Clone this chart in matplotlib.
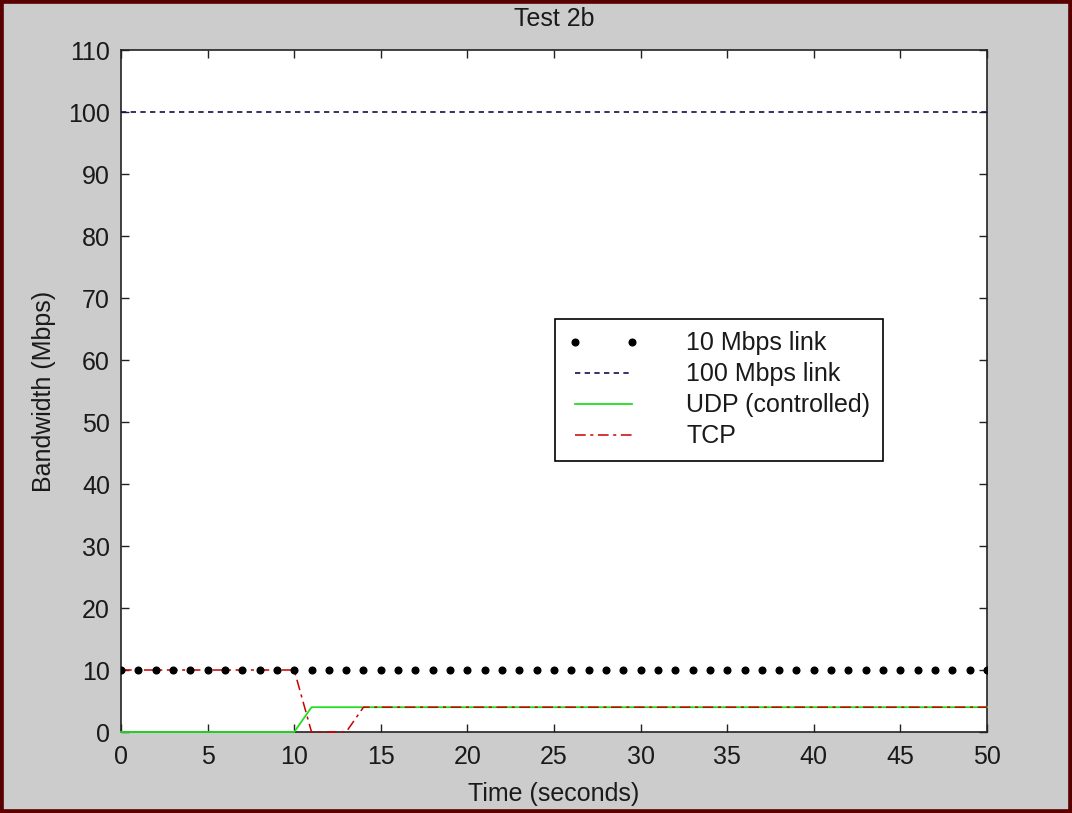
import matplotlib
matplotlib.use("Agg")
import matplotlib.pyplot as plt
from matplotlib.patches import Rectangle

# ---- data ----
time_s = list(range(0, 51))
link10_mbps = [10] * 51
link100_x = [0, 50]
link100_mbps = [100, 100]
udp_mbps = [0] * 11 + [4] * 40          # t=0..10 -> 0, t=11..50 -> 4
tcp_mbps = [10] * 11 + [0] * 3 + [4] * 37  # t=0..10 -> 10, 11..13 -> 0, 14..50 -> 4

legend_labels = ["10 Mbps link", "100 Mbps link", "UDP (controlled)", "TCP"]
xticks = list(range(0, 51, 5))
yticks = list(range(0, 111, 10))

plt.rcParams['font.family'] = ['Liberation Sans', 'DejaVu Sans']
TXT = '#1a1a1a'
FS = 18

W, H = 1072, 813
fig = plt.figure(figsize=(W / 100, H / 100), dpi=100, facecolor='#cccccc')
ax = fig.add_axes([121 / W, 1 - 732 / H, 866 / W, 682 / H])
ax.set_facecolor('white')

h10, = ax.plot(time_s, link10_mbps, linestyle='none', marker='o', markersize=4.8,
               color='black', label=legend_labels[0], zorder=4)
h100, = ax.plot(link100_x, link100_mbps, linestyle=(0, (3.2, 2.6)), color='#101050',
                linewidth=1.2, label=legend_labels[1], zorder=3)
hudp, = ax.plot(time_s, udp_mbps, linestyle='-', color='#22dd22', linewidth=1.3,
                label=legend_labels[2], zorder=3, clip_on=False)
htcp, = ax.plot(time_s, tcp_mbps, linestyle=(0, (7, 3, 2, 3)), color='#c80000',
                linewidth=1.1, label=legend_labels[3], zorder=3, clip_on=False)

ax.set_xlim(0, 50)
ax.set_ylim(0, 110)
ax.set_xticks(xticks)
ax.set_yticks(yticks)
ax.tick_params(direction='in', length=6, width=1.0, top=True, right=True,
               labelsize=FS, colors='#222222', labelcolor=TXT)
ax.tick_params(axis='x', pad=9)
ax.tick_params(axis='y', pad=8)
for s in ax.spines.values():
    s.set_color('#222222')
    s.set_linewidth(1.2)
    s.set_zorder(2.5)

ax.set_title('Test 2b', fontsize=FS, color=TXT, pad=17)
ax.set_xlabel('Time (seconds)', fontsize=FS, color=TXT, labelpad=10)
ax.set_ylabel('Bandwidth (Mbps)', fontsize=FS, color=TXT, labelpad=9)

leg = ax.legend(handles=[h10, h100, hudp, htcp], loc='upper left',
                bbox_to_anchor=(0.501, 0.6056), fontsize=FS, frameon=True,
                fancybox=False, framealpha=1, edgecolor='black', numpoints=2,
                handlelength=2.9, handletextpad=1.85, borderpad=0.5,
                labelspacing=0.28, borderaxespad=0)
leg.get_frame().set_linewidth(1.2)
for t in leg.get_texts():
    t.set_color(TXT)

# dark red border around figure
fig.patches.append(Rectangle((0, 0), 1, 1, transform=fig.transFigure, fill=False,
                             edgecolor='#5a0000', linewidth=5.5, zorder=10))

fig.savefig('out.png', dpi=100, facecolor=fig.get_facecolor())
